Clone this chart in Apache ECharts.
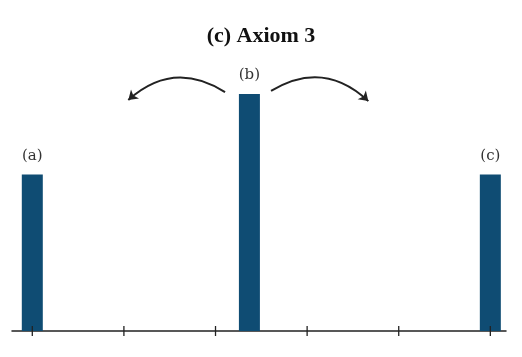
<!DOCTYPE html>
<html>
<head>
<meta charset="utf-8">
<script src="https://cdn.jsdelivr.net/npm/echarts@6/dist/echarts.min.js"></script>
<style>html,body{margin:0;padding:0;background:#fff}#c{width:522px;height:357px}</style>
</head>
<body>
<div id="c"></div>
<script>
var titleText = '(c) Axiom 3';
var barLabels = ['(a)', '(b)', '(c)'];
var barX = [0, 2.37, 5];
var barValues = [0.66, 1.0, 0.66];
var tickPositions = [0, 1, 2, 3, 4, 5];
var arrowLeft = [[2.104, 1.008], [1.048, 0.975]];
var arrowRight = [[2.606, 1.013], [3.668, 0.970]];

var chart = echarts.init(document.getElementById('c'), null, {renderer: 'canvas'});
var barData = barX.map(function (x, i) {
  return {value: [x, barValues[i]], label: {formatter: barLabels[i]}};
});
chart.setOption({
  animation: false,
  title: {
    text: titleText, left: 'center', top: 20,
    textStyle: {fontFamily: 'Liberation Serif', fontWeight: 'bold', fontSize: 22, color: '#111'}
  },
  grid: {left: 12, right: 16, top: 94, bottom: 26},
  xAxis: {
    type: 'value', min: -0.2216, max: 5.171,
    axisLine: {show: true, lineStyle: {color: '#222', width: 1.5}},
    axisTick: {show: false}, axisLabel: {show: false}, splitLine: {show: false}
  },
  yAxis: {
    type: 'value', min: 0, max: 1, show: false, splitLine: {show: false}
  },
  series: [
    {
      type: 'bar', data: barData, barWidth: 21,
      itemStyle: {color: '#0f4c73'},
      label: {
        show: true, position: 'top', distance: 11,
        fontFamily: 'DejaVu Serif', fontSize: 15, color: '#333'
      }
    },
    {
      type: 'custom', data: tickPositions.map(function (t) { return [t, 0]; }),
      renderItem: function (params, api) {
        var p = api.coord([api.value(0), 0]);
        return {type: 'line', shape: {x1: p[0], y1: p[1] - 5, x2: p[0], y2: p[1] + 5},
          style: {stroke: '#222', lineWidth: 1.3}};
      },
      z: 5
    },
    {
      type: 'lines', coordinateSystem: 'cartesian2d', clip: false,
      symbol: ['none', 'arrow'], symbolSize: 9,
      lineStyle: {color: '#222', width: 2, opacity: 1},
      data: [
        {coords: arrowLeft, lineStyle: {curveness: -0.38}},
        {coords: arrowRight, lineStyle: {curveness: 0.38}}
      ]
    }
  ]
});
</script>
</body>
</html>
